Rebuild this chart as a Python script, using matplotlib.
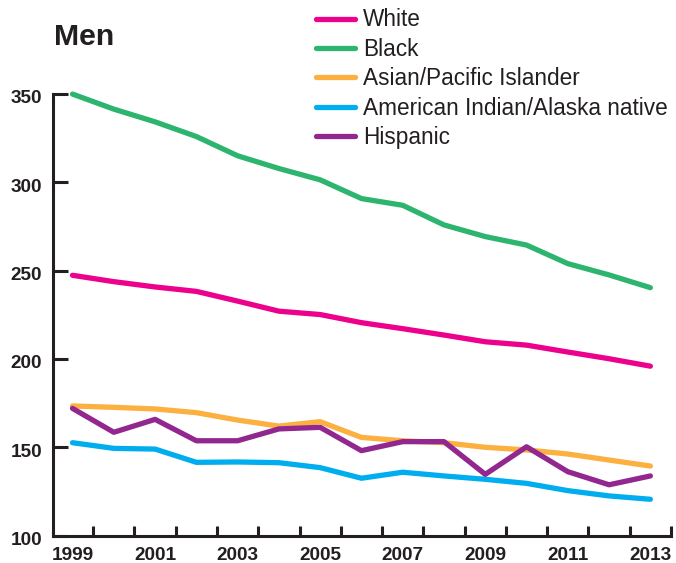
import matplotlib
matplotlib.use("Agg")
import matplotlib.pyplot as plt
import matplotlib.transforms as mtransforms

plt.rcParams['font.family'] = ['Liberation Sans', 'DejaVu Sans']

# Data (rate per 100,000, men)
years = list(range(1999, 2014))
white = [247.3, 243.7, 240.7, 238.2, 232.7, 227.0, 225.1, 220.5, 217.1, 213.5, 209.7, 207.8, 203.9, 200.1, 195.9]
black = [349.8, 341.3, 334.1, 325.8, 314.9, 307.7, 301.3, 290.7, 286.9, 275.8, 269.2, 264.4, 253.9, 247.5, 240.3]
asian = [173.4, 172.6, 171.7, 169.6, 165.4, 162.0, 164.5, 155.6, 153.7, 152.6, 150.0, 148.5, 146.2, 142.8, 139.4]
aian = [152.6, 149.4, 149.0, 141.5, 141.7, 141.3, 138.5, 132.5, 135.9, 133.8, 131.9, 129.6, 125.5, 122.5, 120.6]
hispanic = [172.0, 158.5, 165.8, 153.7, 153.7, 160.4, 161.3, 148.1, 153.2, 153.2, 134.7, 150.3, 136.2, 128.8, 133.8]

labels = ["White", "Black", "Asian/Pacific Islander", "American Indian/Alaska native", "Hispanic"]
colors = ["#EC008C", "#2DB46F", "#FBB040", "#00AEEF", "#92278F"]
yticks = [100, 150, 200, 250, 300, 350]
year_labels = [1999, 2001, 2003, 2005, 2007, 2009, 2011, 2013]

text_col = "#231F20"

fig = plt.figure(figsize=(6.76, 5.63), dpi=100)
ax = fig.add_axes([0.078, 0.0485, 0.9146, 0.785])

# draw back to front so Hispanic sits on top
series = [white, black, asian, aian, hispanic]
handles = []
for vals, lab, col in zip(series, labels, colors):
    ln, = ax.plot(years, vals, color=col, lw=3.8, label=lab, clip_on=False,
                  solid_capstyle="round", solid_joinstyle="round")
    handles.append(ln)

ax.set_xlim(1998.52, 2013.5)
ax.set_ylim(100, 350)

for s in ["top", "right"]:
    ax.spines[s].set_visible(False)
for s in ["left", "bottom"]:
    ax.spines[s].set_linewidth(2.2)
    ax.spines[s].set_color(text_col)

# y axis
ax.set_yticks(yticks)
ax.tick_params(axis="y", direction="in", length=10.5, width=2.2, color=text_col,
               pad=7.5, labelsize=13.7, labelcolor=text_col)
for t in ax.get_yticklabels():
    t.set_fontweight("bold")
    t.set_transform(t.get_transform() + mtransforms.ScaledTranslation(0, -0.03, fig.dpi_scale_trans))

# x axis: tick marks between years, labels on odd years
ax.set_xticks([y + 0.5 for y in years])
ax.set_xticklabels([])
ax.set_xticks(year_labels, minor=True)
ax.set_xticklabels([str(y) for y in year_labels], minor=True, fontweight="bold")
ax.tick_params(axis="x", which="major", direction="in", length=7.5, width=2.2, color=text_col)
ax.tick_params(axis="x", which="minor", length=0, pad=7.8, labelsize=13.7, labelcolor=text_col)

fig.text(54.3 / 676, 1 - 45 / 563, "Men", fontsize=21.8, fontweight="bold",
         color=text_col, va="baseline", ha="left")

leg = fig.legend(handles=handles, loc="upper left", bbox_to_anchor=(316 / 676, 1 - 8.5 / 563),
                 frameon=False, fontsize=16.3, handlelength=1.73, handletextpad=0.36,
                 labelspacing=0.285, borderpad=0, borderaxespad=0)
for t in leg.get_texts():
    t.set_color(text_col)
for h in leg.legend_handles:
    h.set_linewidth(3.8)
    h.set_solid_capstyle("round")

fig.savefig("out.png", dpi=100)
